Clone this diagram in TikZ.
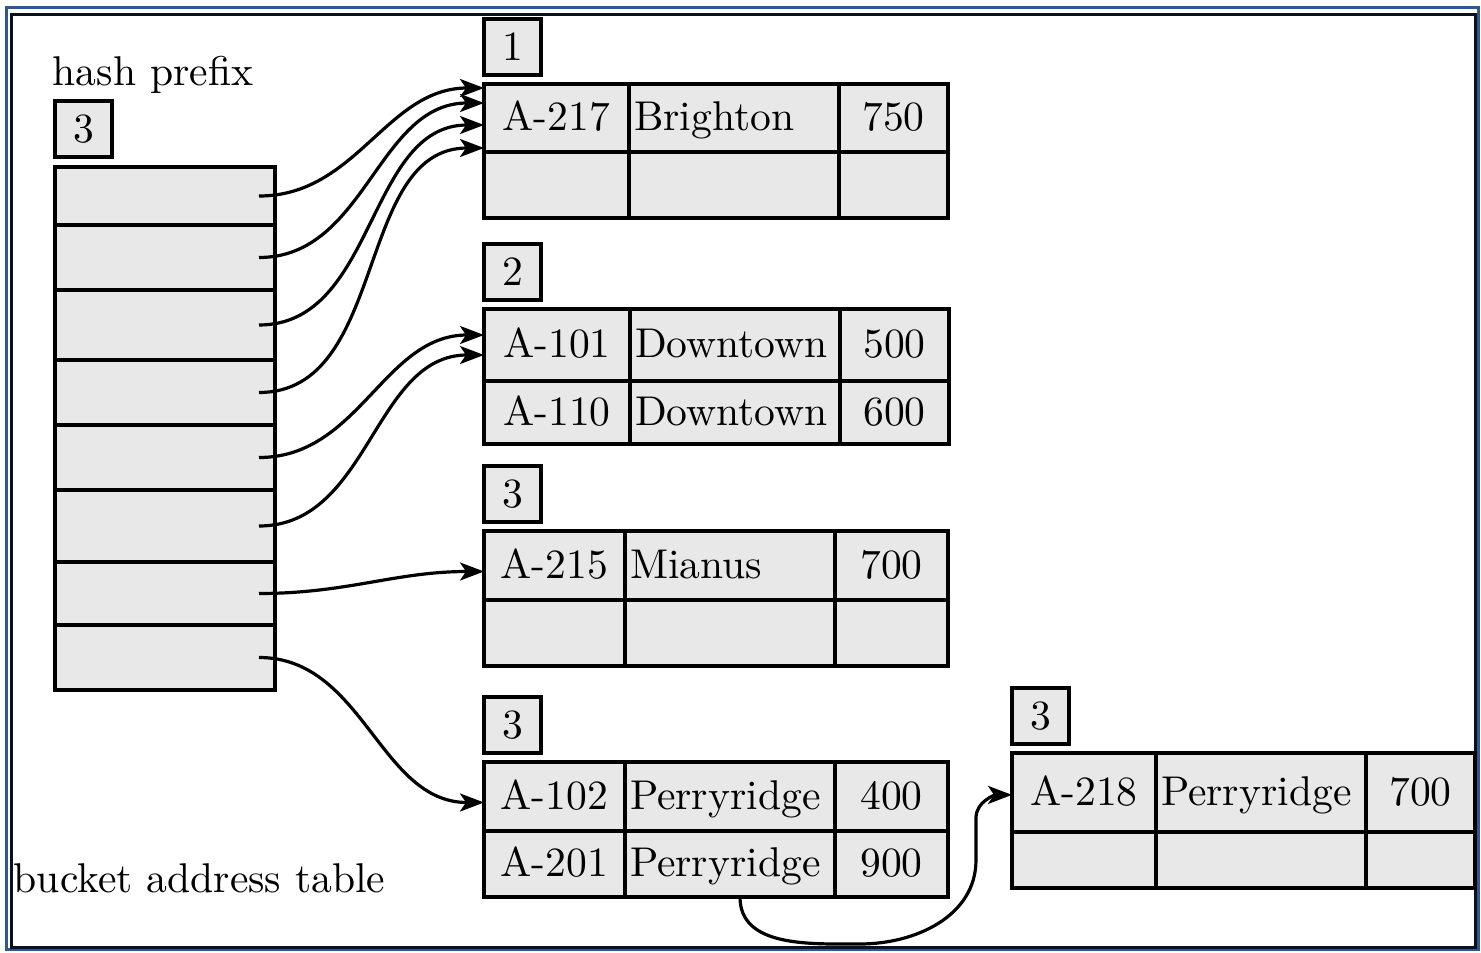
\documentclass[tikz,border=0pt]{standalone}
\usepackage{tikz}
\usetikzlibrary{arrows.meta,positioning}
\definecolor{cellgray}{gray}{0.91}
\definecolor{framebl}{RGB}{47,88,140}

\begin{document}
\begin{tikzpicture}[x=0.25pt, y=-0.25pt,
    font=\fontsize{10.4}{12}\selectfont,
    cell/.style={draw, fill=cellgray, line width=0.9pt, inner xsep=1.25pt, inner ysep=0pt,
      outer sep=0pt, text height=8.25pt, text depth=2pt, anchor=north west},
    namecell/.style={cell, text width=50pt, align=left},
    slot/.style={draw, fill=cellgray, line width=0.9pt, outer sep=0pt, minimum width=55pt,
      anchor=north west},
    lenbox/.style={draw, fill=cellgray, line width=1pt, minimum width=14.25pt, minimum height=14pt,
      inner sep=0pt, outer sep=0pt, anchor=south west},
    ptr/.style={line width=0.8pt, -{Stealth[length=6pt,width=4.5pt,inset=1.5pt]}}]
  \useasboundingbox (0,0) rectangle (1481,953);
  % frame
  \draw[framebl, line width=0.8pt] (6.5,7.5) rectangle (1478.5,949.5);
  \draw[black!80!framebl, line width=0.75pt] (11.5,14) rectangle (1475,947);

  % bucket address table
  \node[anchor=base west, inner sep=0pt] (hplabel) at (52,85) {hash prefix};
  \node[slot, minimum height=14.5pt] (t1) at (55,167) {};
  \foreach \i/\j/\rh in {2/1/16.25, 3/2/17.5, 4/3/16.25, 5/4/16.25, 6/5/18, 7/6/15.75, 8/7/16.25}
    \node[slot, minimum height=\rh pt] (t\i) at (t\j.south west) {};
  \node[lenbox] (hp) at ([yshift=2.5pt]t1.north west) {3};
  \node[anchor=base west, inner sep=0pt] (tlabel) at (13,892) {bucket address table};

  % buckets, one row at a time
  \foreach \row/\x/\y/\wa/\wc/\rh/\ak/\bn/\bv in {
      b1r1/484/84/36.25/27.25/17/A-217/Brighton/750,
      b1r2/484/152/36.25/27.25/16.5/{}/{}/{},
      b2r1/484/309/36.5/27.25/18/A-101/Downtown/500,
      b2r2/484/381/36.5/27.25/15.75/A-110/Downtown/600,
      b3r1/484/531/35.25/28.25/17.25/A-215/Mianus/700,
      b3r2/484/600/35.25/28.25/16.5/{}/{}/{},
      b4r1/484/762/35.25/28.25/17.25/A-102/Perryridge/400,
      b4r2/484/831/35.25/28.25/16.5/A-201/Perryridge/900,
      b5r1/1012/753/36/27.25/19.75/A-218/Perryridge/700,
      b5r2/1012/832/36/27.25/14/{}/{}/{}}
  {
    \node[cell, minimum width=\wa pt, minimum height=\rh pt] (\row a) at (\x,\y) {\ak};
    \node[namecell, minimum height=\rh pt] (\row b) at (\row a.north east) {\bn};
    \node[cell, minimum width=\wc pt, minimum height=\rh pt] (\row c) at (\row b.north east) {\bv};
  }
  \foreach \n/\t in {1/1, 2/2, 3/3, 4/3, 5/3}
    \node[lenbox] (len\n) at ([yshift=2.25pt]b\n r1a.north west) {\t};

  % pointers
  \foreach \s/\d/\dy in {t1/b1r1a/7.5, t2/b1r1a/3.75, t3/b1r1a/-1.75, t4/b1r1a/-7.5,
                         t5/b2r1a/2.5, t6/b2r1a/-2.5, t7/b3r1a/-1.5, t8/b4r1a/-1.5}
    \draw[ptr] ([xshift=-4pt]\s.east) to[out=0,in=180] ([yshift=\dy pt]\d.west);
  \draw[ptr] ([xshift=2.5pt]b4r2b.south) to[out=-90,in=180] (860,944) to[out=0,in=-90] (976,860)
    -- (976,818) to[out=90,in=180] ([yshift=-0.6pt]b5r1a.west);
\end{tikzpicture}
\end{document}
